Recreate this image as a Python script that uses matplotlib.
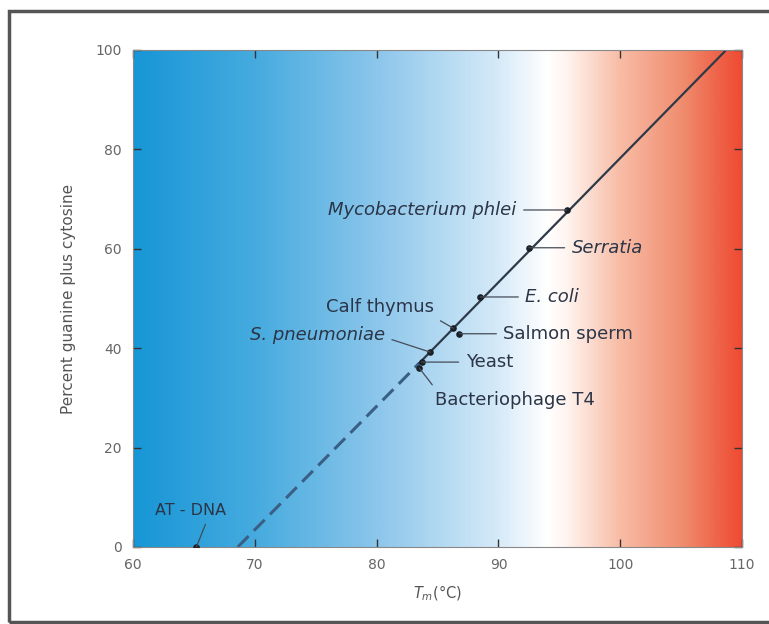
import matplotlib.pyplot as plt
from matplotlib.colors import LinearSegmentedColormap
from matplotlib.patches import Rectangle
import numpy as np

# melting temperature (°C) vs percent G+C
line_tm = [68.6, 83.5, 108.7]
line_gc = [0, 37, 100]

species = ["Mycobacterium phlei", "Serratia", "E. coli", "Calf thymus",
           "Salmon sperm", "S. pneumoniae", "Yeast", "Bacteriophage T4", "AT - DNA"]
tm = [95.6, 92.5, 88.5, 86.3, 86.8, 84.4, 83.7, 83.5, 65.2]
gc = [67.8, 60.2, 50.3, 44.0, 42.9, 39.2, 37.2, 36.0, 0.0]
label_x = [91.5, 96.0, 92.2, 80.3, 90.4, 80.7, 87.3, 84.8, 64.7]
label_y = [67.8, 60.2, 50.3, 48.3, 42.9, 42.7, 37.2, 29.6, 7.4]
label_ha = ["right", "left", "left", "center", "left", "right", "left", "left", "center"]
label_italic = [True, True, True, False, False, True, False, False, False]
label_size = [13, 13, 13, 13, 13, 13, 13, 13, 11.5]
# where on the label box the leader line starts
label_rel = [(1, 0.5), (0, 0.5), (0, 0.5), (0.95, 0.1), (0, 0.5),
             (1, 0.35), (0, 0.5), (0.02, 0.9), (0.75, 0)]

xticks = [60, 70, 80, 90, 100, 110]
yticks = [0, 20, 40, 60, 80, 100]

fig = plt.figure(figsize=(7.69, 6.24), dpi=100)
ax = fig.add_axes([0.173, 0.1234, 0.792, 0.7966])

# background gradient blue -> white -> red
cmap = LinearSegmentedColormap.from_list("bwr_bg", [
    (0.00, "#1796d6"), (0.20, "#46abdf"), (0.40, "#8cc6eb"),
    (0.60, "#d6eaf8"), (0.68, "#ffffff"), (0.71, "#fff6f2"),
    (0.80, "#f8bca6"), (0.90, "#f08e70"), (1.00, "#ee4a32")])
grad = np.linspace(0, 1, 500).reshape(1, -1)
ax.imshow(grad, cmap=cmap, aspect="auto", extent=[60, 110, 0, 100], zorder=0)

ax.plot(line_tm[:2], line_gc[:2], ls=(0, (5, 2.5)), color="#3a5f85", lw=2.2, zorder=2)
ax.plot(line_tm[1:], line_gc[1:], color="#2e3a48", lw=1.6, zorder=2)
ax.scatter(tm, gc, s=14, color="#1a1f26", zorder=3)

txt_col = "#2b3547"
for i in range(len(species)):
    ax.annotate(species[i], xy=(tm[i], gc[i]), xytext=(label_x[i], label_y[i]),
                ha=label_ha[i], va="center", fontsize=label_size[i], color=txt_col,
                style="italic" if label_italic[i] else "normal",
                arrowprops=dict(arrowstyle="-", color="#444c58", lw=0.9,
                                shrinkA=3, shrinkB=0, relpos=label_rel[i]), zorder=4)

ax.set_xlim(60, 110)
ax.set_ylim(0, 100)
ax.set_xticks(xticks)
ax.set_yticks(yticks)
ax.tick_params(direction="in", length=6, width=1, color="#333",
               top=True, right=True, labelsize=10, labelcolor="#666", pad=8)
for s in ax.spines.values():
    s.set_color("#888")
    s.set_linewidth(0.8)

ax.set_xlabel(r"$T_m$(°C)", fontsize=10.5, color="#555", labelpad=8)
ax.set_ylabel("Percent guanine plus cytosine", fontsize=11, color="#555", labelpad=14)

# outer frame
fig.patches.append(Rectangle((9 / 769, 2 / 624), 1.0, 1 - 13 / 624, transform=fig.transFigure,
                             fill=False, edgecolor="#555", lw=2.5))

fig.savefig("out.png", dpi=100)
